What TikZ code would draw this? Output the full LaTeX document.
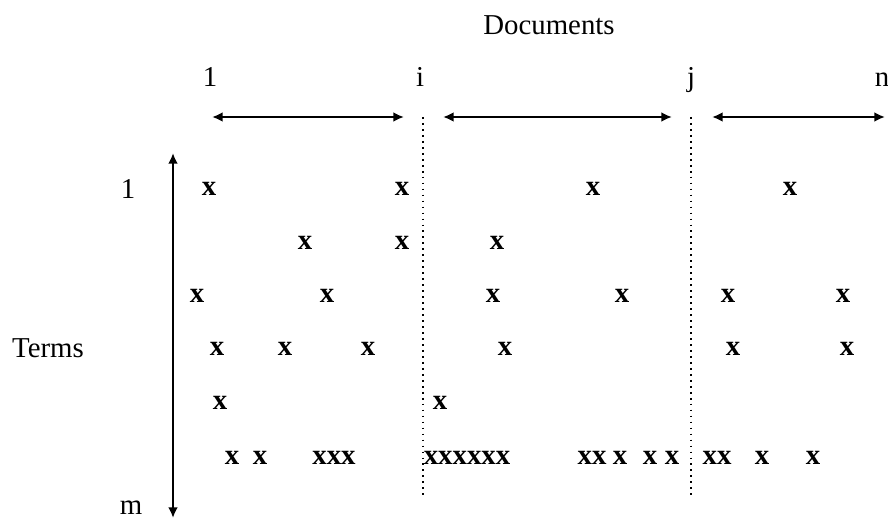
\documentclass[tikz,border=0pt]{standalone}
\usepackage{fontspec}
\setmainfont{Liberation Serif}
\usetikzlibrary{arrows.meta}

\begin{document}
\begin{tikzpicture}[x=0.02cm, y=-0.02cm,
  font=\fontsize{16.4pt}{19pt}\selectfont,
  every node/.style={inner sep=0pt, anchor=base},
  xmark/.style={font=\fontsize{16.4pt}{19pt}\selectfont\bfseries},
  spanarrow/.style={line width=1.2pt, {Latex[length=6pt,width=5.5pt]}-{Latex[length=6pt,width=5.5pt]}},
  divider/.style={line width=1pt, dash pattern=on 1pt off 2.4pt}]
  \useasboundingbox (0,0) rectangle (888,520);
  % headings
  \node (docs) at (549,35) {Documents};
  \node (terms) at (48,357) {Terms};
  % document indices
  \node (d1) at (210,87) {1};
  \node (di) at (420,87) {i};
  \node (dj) at (691,87) {j};
  \node (dn) at (882,87) {n};
  % term indices
  \node (t1) at (128,198) {1};
  \node (tm) at (131,514) {m};
  % ranges of documents
  \coordinate (r1w) at (212,117); \coordinate (r1e) at (404,117);
  \coordinate (r2w) at (443,117); \coordinate (r2e) at (672,117);
  \coordinate (r3w) at (712,117); \coordinate (r3e) at (885,117);
  \draw[spanarrow] (r1w) -- (r1e);
  \draw[spanarrow] (r2w) -- (r2e);
  \draw[spanarrow] (r3w) -- (r3e);
  % range of terms
  \coordinate (ttop) at (173,153); \coordinate (tbot) at (173,518);
  \draw[spanarrow] (ttop) -- (tbot);
  % dividers at i and j
  \coordinate (ditop) at (423,117); \coordinate (dibot) at (423,498);
  \coordinate (djtop) at (691,117); \coordinate (djbot) at (691,498);
  \draw[divider] (ditop) -- (dibot);
  \draw[divider] (djtop) -- (djbot);
  % occurrences
  \foreach \px/\py in {209/195, 402/195, 593/195, 790/195,
                       305/249, 402/249, 497/249,
                       197/302, 327/302, 493/302, 622/302, 728/302, 843/302,
                       217/355, 285/355, 368/355, 505/355, 733/355, 847/355,
                       220/409, 440/409,
                       232/464, 260/464, 620/464, 650/464, 672/464, 762/464, 813/464}
    \node[xmark] (x-\px-\py) at (\px,\py) {x};
  \node[xmark] (xxx) at (334,464) {xxx};
  \node[xmark] (xxxxxx) at (467,464) {xxxxxx};
  \node[xmark] (xx1) at (592,464) {xx};
  \node[xmark] (xx2) at (717,464) {xx};
\end{tikzpicture}
\end{document}
